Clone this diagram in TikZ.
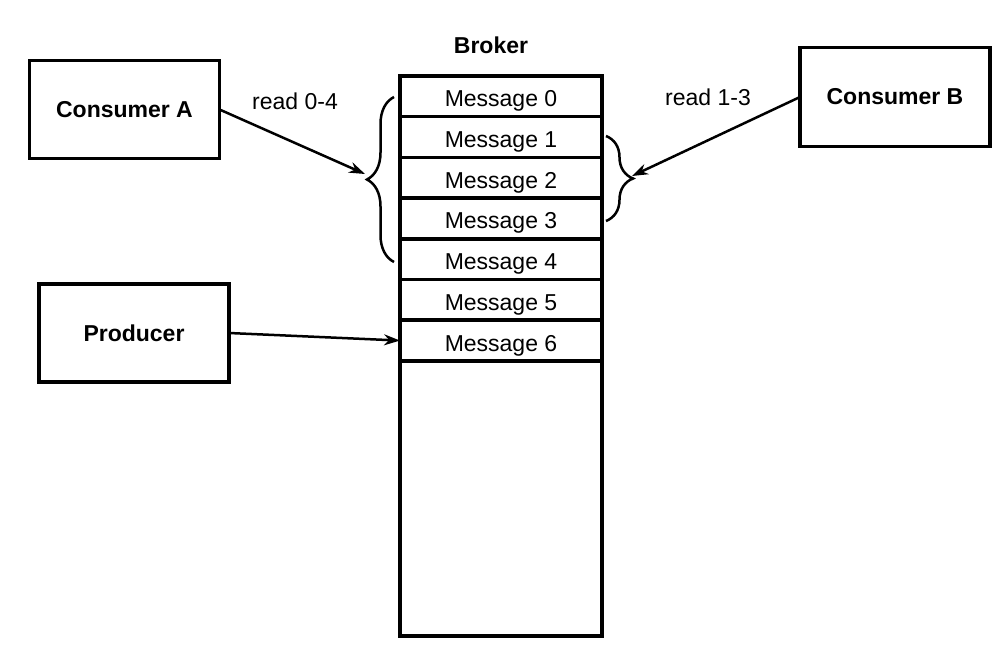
\documentclass[tikz,border=0pt]{standalone}
\usepackage{fontspec}
\setmainfont{Liberation Sans}
\usetikzlibrary{arrows.meta}
\usetikzlibrary{decorations.pathreplacing}

\tikzset{
  box/.style={draw, line width=3.5pt, outer sep=0pt, minimum width=190pt, minimum height=98pt,
    font=\fontsize{23}{27}\selectfont\bfseries},
  msg/.style={draw, line width=3.5pt, outer sep=0pt, minimum width=202pt, minimum height=40.7pt,
    inner sep=0pt, text height=21pt, text depth=0pt, font=\fontsize{23}{27}\selectfont},
  conn/.style={line width=2.5pt, -{Stealth[length=16pt,width=11pt]}},
  brace/.style={line width=2.5pt, decorate, decoration={brace, amplitude=27pt}},
  lbl/.style={font=\fontsize{23}{27}\selectfont}
}

\begin{document}
\begin{tikzpicture}[x=1pt, y=-1pt] % pixel grid, y runs down
        \useasboundingbox (0,0) rectangle (1006,648);
        \node[lbl, font=\fontsize{23}{27}\selectfont\bfseries] (broker) at (491,45) {Broker};

        \node[msg] (m0) at (501,96.35) {Message 0};
        \node[msg] (m1) at (501,137.05) {Message 1};
        \node[msg] (m2) at (501,177.75) {Message 2};
        \node[msg] (m3) at (501,218.45) {Message 3};
        \node[msg] (m4) at (501,259.15) {Message 4};
        \node[msg] (m5) at (501,299.85) {Message 5};
        \node[msg] (m6) at (501,340.55) {Message 6};
        \node[msg, minimum height=275pt] (free) at (501,498.45) {};

        \node[box] (consA) at (124.5,109.5) {Consumer A};
        \node[box, minimum height=99pt] (consB) at (895,97) {Consumer B};
        \node[box] (prod) at (134,333) {Producer};

        \node[lbl] (readA) at (295,101) {read 0-4};
        \node[lbl] (readB) at (708,97) {read 1-3};

        \coordinate (braceAbot) at (394,262);
        \coordinate (braceAtop) at (394,97);
        \coordinate (braceBtop) at (606,136);
        \coordinate (braceBbot) at (606,221);
        \draw[brace] (braceAbot) -- (braceAtop);
        \draw[brace] (braceBtop) -- (braceBbot);

        \coordinate (tipA) at (365,174);
        \coordinate (tipB) at (632,176);
        \draw[conn] (consA.east) -- (tipA);
        \draw[conn] (consB.west) -- (tipB);
        \draw[conn] (prod.east) -- (m6.west);
    \end{tikzpicture}
\end{document}
